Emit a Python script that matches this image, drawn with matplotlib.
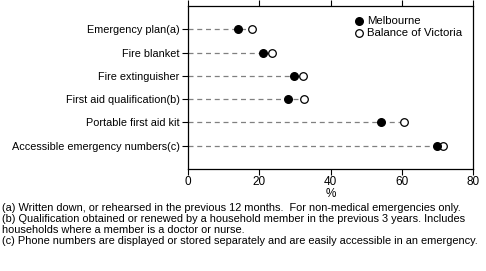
import matplotlib
matplotlib.use('Agg')
import matplotlib.pyplot as plt

plt.rcParams['font.family'] = ['Liberation Sans Narrow', 'Liberation Sans', 'DejaVu Sans']

categories = ['Emergency plan(a)', 'Fire blanket', 'Fire extinguisher',
              'First aid qualification(b)', 'Portable first aid kit',
              'Accessible emergency numbers(c)']
melbourne = [14.1, 21.1, 29.8, 28.2, 54.1, 70.0]
balance_vic = [17.9, 23.7, 32.4, 32.6, 60.6, 71.7]
x_ticks = [0, 20, 40, 60, 80]

footnotes = [
    '(a) Written down, or rehearsed in the previous 12 months.  For non-medical emergencies only.',
    '(b) Qualification obtained or renewed by a household member in the previous 3 years. Includes',
    'households where a member is a doctor or nurse.',
    '(c) Phone numbers are displayed or stored separately and are easily accessible in an emergency.',
]

fig = plt.figure(figsize=(4.86, 2.71), dpi=100)
ax = fig.add_axes([188 / 486, 1 - 169 / 271, 285 / 486, 163 / 271])

ypos = list(range(len(categories)))
for y, m, b in zip(ypos, melbourne, balance_vic):
    ax.plot([0, max(m, b)], [y, y], color='#808080', linestyle=(0, (4, 3)), linewidth=0.9, zorder=1)

ax.scatter(melbourne, ypos, s=30, color='black', zorder=3, label='Melbourne')
ax.scatter(balance_vic, ypos, s=30, facecolor='white', edgecolor='black', linewidth=0.9,
           zorder=2, label='Balance of Victoria')

ax.set_xlim(0, 80)
ax.set_ylim(6.0, -1.0)
ax.set_yticks(ypos)
ax.set_yticklabels(categories, fontsize=7.8)
ax.set_xticks(x_ticks)
ax.tick_params(axis='x', labelsize=8.5, length=4, width=0.8, top=True, direction='out', pad=1)
ax.tick_params(axis='y', length=4, width=0.8, direction='out', pad=2)
ax.set_xlabel('%', fontsize=8.5, labelpad=0)
for s in ax.spines.values():
    s.set_linewidth(0.9)

ax.legend(loc='upper right', bbox_to_anchor=(0.99, 0.99), frameon=False, fontsize=8.2,
          handletextpad=0.1, borderpad=0.2, labelspacing=0.2, handlelength=1.2)

for line, ytop in zip(footnotes, [203, 214.5, 225, 236.5]):
    fig.text(2 / 486, 1 - ytop / 271, line, fontsize=7.9, va='top')

fig.savefig('out.png', dpi=100)
